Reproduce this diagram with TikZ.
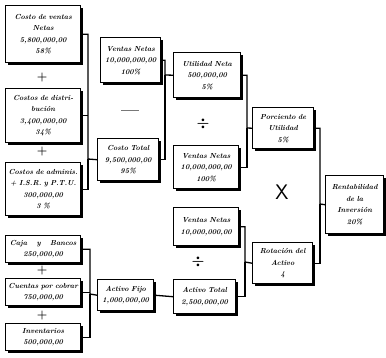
\documentclass[tikz,border=0pt]{standalone}
\usepackage{amsmath}
\usepackage{tikz}
\usetikzlibrary{shadows,positioning}

\begin{document}
\begin{tikzpicture}[
    x=1pt, y=-1pt,
    box/.style={rectangle, draw=black, line width=1.4pt, fill=white, anchor=north west, align=center, inner sep=1pt, font=\fontsize{7.3}{11.5}\selectfont\bfseries\itshape, drop shadow={shadow xshift=1.8pt, shadow yshift=-2pt, opacity=1, fill=black}},
    sz/.style n args={3}{minimum width=#1pt, minimum height=#2pt, text width=#3pt},
    wire/.style={line width=1.3pt, draw=black},
    sign/.style={font=\fontsize{12}{12}\selectfont\bfseries}
]
    \useasboundingbox (0,0) rectangle (386,357);

    % costos
    \node [box, sz={75}{57}{71}] (cvn) at (5,5) {Costo de ventas\\Netas\\5,800,000,00\\58\%};
    \node [box, sz={75}{54}{71}] (cdi) at (5,88) {Costos de distri-\\bución\\3,400,000,00\\34\%};
    \node [box, sz={75}{53}{71}] (cad) at (5,162) {Costos de adminis.\\+ I.S.R. y P.T.U.\\300,000,00\\3 \%};
    \node [sign] (p1) at (42,78) {+};
    \node [sign] (p2) at (42,152) {+};

    % activo circulante
    \node [box, sz={75}{27}{71}] (cyb) at (5,235) {Caja\hspace{1.3em}y\hspace{1.3em}Bancos\\250,000,00};
    \node [box, sz={75}{27}{71}] (cpc) at (5,278) {Cuentas por cobrar\\750,000,00};
    \node [box, sz={75}{27}{71}] (inv) at (5,323) {Inventarios\\500,000,00};
    \node [sign] (p3) at (42,270) {+};
    \node [sign] (p4) at (42,315) {+};

    % segunda columna
    \node [box, sz={60}{45}{58}] (vn1) at (100,37) {Ventas Netas\\10,000,000,00\\100\%};
    \node [box, sz={61}{42}{59}] (ct) at (97,138) {Costo Total\\9,500,000,00\\95\%};
    \node [box, sz={56}{31}{54}] (af) at (97,279) {Activo Fijo\\1,000,000,00};
    \node [font=\fontsize{16}{16}\selectfont\bfseries] (menos) at (130,113) {---};

    % tercera columna
    \node [box, sz={67}{45}{63}] (un) at (173,52) {Utilidad Neta\\500,000,00\\5\%};
    \node [box, sz={65}{43}{63}] (vn2) at (173,145) {Ventas Netas\\10,000,000,00\\100\%};
    \node [box, sz={65}{38}{63}] (vn3) at (173,207) {Ventas Netas\\10,000,000,00};
    \node [box, sz={62}{34}{60}] (at) at (173,279) {Activo Total\\2,500,000,00};
    \node [sign, font=\fontsize{15}{15}\selectfont\bfseries] (d1) at (203,124) {$\boldsymbol{\div}$};
    \node [sign, font=\fontsize{15}{15}\selectfont\bfseries] (d2) at (198,262) {$\boldsymbol{\div}$};

    % cuarta columna
    \node [box, sz={61}{41}{59}] (pu) at (252,107) {Porciento de\\Utilidad\\5\%};
    \node [box, sz={60}{41}{58}] (ra) at (252,242) {Rotación del\\Activo\\4};
    \node [font=\fontsize{21}{21}\selectfont\sffamily] (por) at (282,192) {X};
    \node [box, sz={58}{58}{56}] (ri) at (325,175) {Rentabilidad\\de la\\Inversión\\20\%};

    % llaves
    \coordinate (k1) at (88,159);
    \coordinate (k2) at (90,294);
    \coordinate (k3) at (165,75);
    \coordinate (k4) at (247,128);
    \coordinate (k5) at (245,262);
    \coordinate (k6) at (320,204);

    \draw [wire] (cvn.east) -| (k1) -- (ct.west);
    \draw [wire] (cdi.east) -- (cdi.east -| k1);
    \draw [wire] (cad.east) -| (k1);

    \draw [wire] (cyb.east) -| (k2) -- (af.west);
    \draw [wire] (cpc.east) -- (cpc.east -| k2);
    \draw [wire] (inv.east) -| (k2);

    \draw [wire] (vn1.east) -| (k3) -- (un.west);
    \draw [wire] (ct.east) -| (k3);
    \draw [wire] (af.east) -- (at.west);

    \draw [wire] (un.east) -| (k4) -- (pu.west);
    \draw [wire] (vn2.east) -| (k4);
    \draw [wire] (vn3.east) -| (k5) -- (ra.west);
    \draw [wire] (at.east) -| (k5);

    \draw [wire] (pu.east) -| (k6) -- (ri.west);
    \draw [wire] (ra.east) -| (k6);
\end{tikzpicture}
\end{document}
